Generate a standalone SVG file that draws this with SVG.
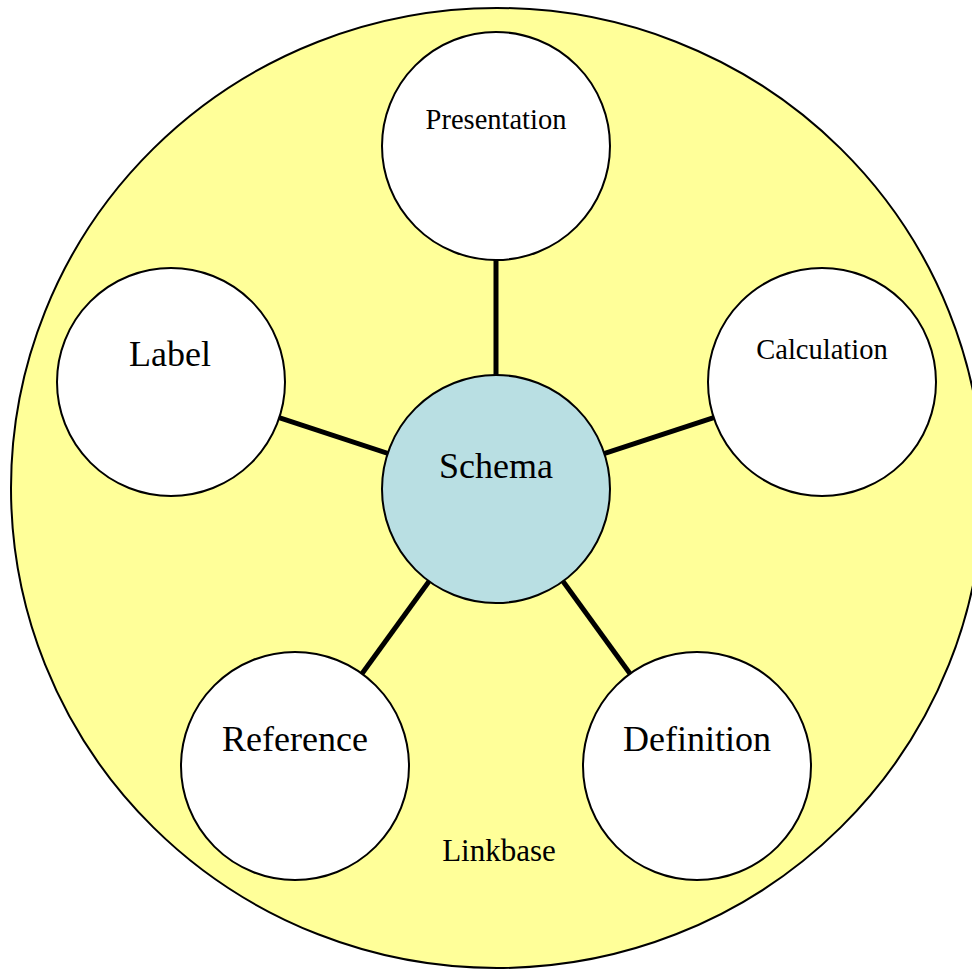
<svg xmlns="http://www.w3.org/2000/svg" width="972" height="970" viewBox="0 0 972 970">
<style>
  .node { fill: #ffffff; stroke: #000000; stroke-width: 2; }
  .hub { fill: #b9dfe3; stroke: #000000; stroke-width: 2; }
  .t { font-family: "Liberation Serif", "Times New Roman", serif; fill: #000000; text-anchor: middle; }
  .big { font-size: 36px; }
  .small { font-size: 28.5px; }
  .conn line { stroke: #000000; stroke-width: 5; }
</style>
<rect x="0" y="0" width="972" height="970" fill="#ffffff"/>
<g id="linkbase">
  <ellipse cx="497" cy="488" rx="486" ry="480" fill="#ffff99" stroke="#000000" stroke-width="2"/>
  <text class="t" x="499" y="861" font-size="31">Linkbase</text>
</g>
<g class="conn" id="connectors">
  <line x1="496" y1="489" x2="496" y2="146"/>
  <line x1="496" y1="489" x2="171" y2="382"/>
  <line x1="496" y1="489" x2="822" y2="382"/>
  <line x1="496" y1="489" x2="295" y2="766"/>
  <line x1="496" y1="489" x2="697" y2="766"/>
</g>
<g id="presentation">
  <circle class="node" cx="496" cy="146" r="114"/>
  <text class="t small" x="496" y="129">Presentation</text>
</g>
<g id="label">
  <circle class="node" cx="171" cy="382" r="114"/>
  <text class="t big" x="170" y="366">Label</text>
</g>
<g id="calculation">
  <circle class="node" cx="822" cy="382" r="114"/>
  <text class="t small" x="822" y="359">Calculation</text>
</g>
<g id="reference">
  <circle class="node" cx="295" cy="766" r="114"/>
  <text class="t big" x="295" y="751">Reference</text>
</g>
<g id="definition">
  <circle class="node" cx="697" cy="766" r="114"/>
  <text class="t big" x="697" y="751">Definition</text>
</g>
<g id="schema">
  <circle class="hub" cx="496" cy="489" r="114"/>
  <text class="t big" x="496" y="478">Schema</text>
</g>
</svg>
